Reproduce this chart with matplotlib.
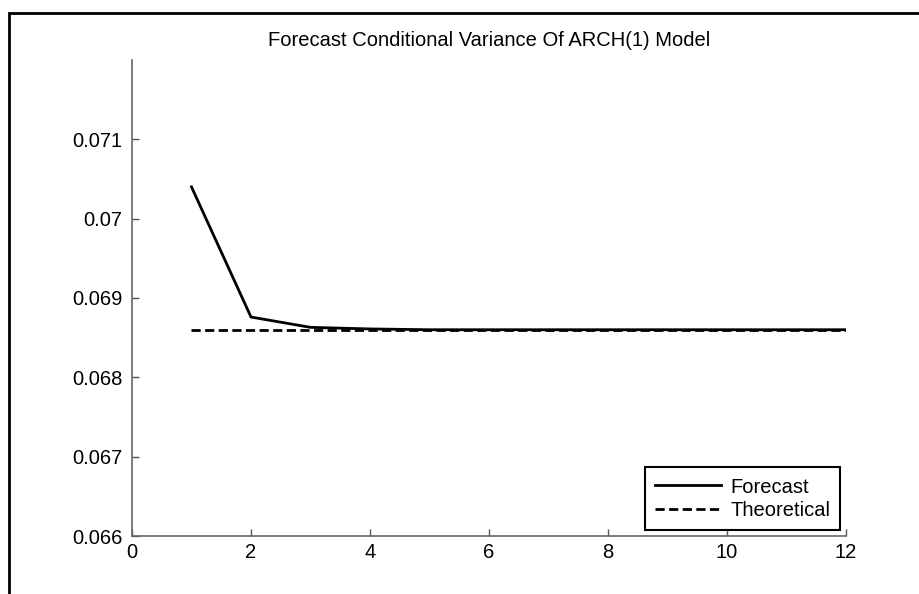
import matplotlib
matplotlib.use('Agg')
import matplotlib.pyplot as plt
from matplotlib.patches import Rectangle

# forecast horizon and variance values
horizon = [1, 2, 3, 4, 5, 6, 7, 8, 9, 10, 11, 12]
forecast = [0.07040, 0.06876, 0.06863, 0.06861, 0.06860, 0.06860,
            0.06860, 0.06860, 0.06860, 0.06860, 0.06860, 0.06860]
theoretical = [0.06860] * 12

xticks = [0, 2, 4, 6, 8, 10, 12]
yticks = [0.066, 0.067, 0.068, 0.069, 0.070, 0.071]
ytick_labels = ['0.066', '0.067', '0.068', '0.069', '0.07', '0.071']

plt.rcParams['font.family'] = ['Liberation Sans', 'DejaVu Sans']

fig = plt.figure(figsize=(9.2, 5.94), dpi=100)
ax = fig.add_axes([132 / 920, 1 - 536 / 594, 714 / 920, 476 / 594])

ax.plot(horizon, forecast, color='black', lw=2, label='Forecast')
ax.plot(horizon, theoretical, color='black', lw=2, ls=(0, (3.3, 1.6)), label='Theoretical')

ax.set_xlim(0, 12)
ax.set_ylim(0.066, 0.072)
ax.set_xticks(xticks)
ax.set_yticks(yticks)
ax.set_yticklabels(ytick_labels)
ax.tick_params(direction='in', length=5, width=1, color='#555555', labelsize=14.5)
ax.tick_params(axis='y', pad=7)
ax.tick_params(axis='x', pad=5)

for side in ['top', 'right']:
    ax.spines[side].set_visible(False)
for side in ['left', 'bottom']:
    ax.spines[side].set_color('#666666')
    ax.spines[side].set_linewidth(1.2)

ax.set_title('Forecast Conditional Variance Of ARCH(1) Model', fontsize=14.5, pad=10)

leg = ax.legend(loc='lower right', bbox_to_anchor=(0.992, 0.0126), borderaxespad=0,
                fancybox=False, edgecolor='black', fontsize=14.5, handlelength=3.3,
                handletextpad=0.45, borderpad=0.5, labelspacing=0.22, framealpha=1)
leg.get_frame().set_linewidth(1.5)

# outer frame around the figure
fig.patches.append(Rectangle((9 / 920, -0.2), 1.2, 1 - 13 / 594 + 0.2,
                             transform=fig.transFigure, fill=False,
                             edgecolor='black', lw=2))

fig.savefig('out.png', dpi=100)
